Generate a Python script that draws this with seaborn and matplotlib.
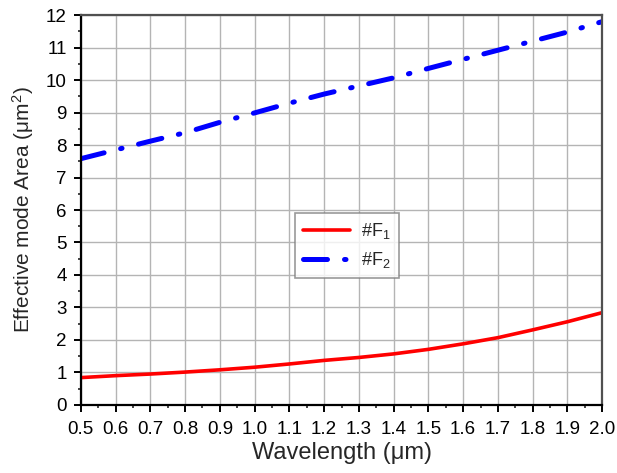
import numpy as np
import pandas as pd
import matplotlib
matplotlib.use('Agg')
import matplotlib.pyplot as plt
from matplotlib.ticker import MultipleLocator
import seaborn as sns

# values
wavelength = [0.5, 0.6, 0.7, 0.8, 0.9, 1.0, 1.1, 1.2, 1.3, 1.4, 1.5, 1.6, 1.7, 1.8, 1.9, 2.0]
area_f1 = [0.84, 0.90, 0.95, 1.01, 1.08, 1.16, 1.26, 1.37, 1.46, 1.57, 1.71, 1.88, 2.07, 2.31, 2.56, 2.84]
area_f2 = [7.58, 7.85, 8.12, 8.38, 8.70, 8.99, 9.29, 9.57, 9.82, 10.07, 10.36, 10.64, 10.92, 11.20, 11.48, 11.80]
labels = ['#F$_1$', '#F$_2$']

sns.set_style('white')
plt.rcParams['font.family'] = ['Liberation Sans', 'DejaVu Sans']
plt.rcParams['mathtext.default'] = 'regular'

df = pd.DataFrame({'wl': wavelength, 'f1': area_f1, 'f2': area_f2})

fig, ax = plt.subplots(figsize=(6.17, 4.73), dpi=100)
fig.subplots_adjust(left=0.131, right=0.976, top=0.968, bottom=0.144)

sns.lineplot(data=df, x='wl', y='f1', ax=ax, color='#ff0000', lw=2.6, label=labels[0])
sns.lineplot(data=df, x='wl', y='f2', ax=ax, color='#0000ff', lw=3.6, label=labels[1],
             dashes=False)
ax.lines[1].set_linestyle((0, (4.8, 3.4, 0.3, 3.4)))
ax.lines[1].set_dash_capstyle('round')

ax.set_xlim(0.5, 2.0)
ax.set_ylim(0, 12)
ax.xaxis.set_major_locator(MultipleLocator(0.1))
ax.xaxis.set_minor_locator(MultipleLocator(0.05))
ax.yaxis.set_major_locator(MultipleLocator(1))
ax.yaxis.set_minor_locator(MultipleLocator(0.5))
ax.set_xticklabels([f'{v:.1f}' for v in ax.get_xticks()])

ax.grid(True, which='major', color='#b4b4b4', lw=1.0)
ax.tick_params(which='major', direction='out', length=5, width=1.4, labelsize=13.5,
               bottom=True, left=True, colors='black')
ax.tick_params(which='minor', direction='out', length=2.5, width=1.2, bottom=True, left=True)
ax.tick_params(axis='x', which='major', pad=6.5)
ax.tick_params(axis='y', which='major', pad=5)

for side in ['left', 'bottom']:
    ax.spines[side].set_color('black')
    ax.spines[side].set_linewidth(1.6)
for side in ['top', 'right']:
    ax.spines[side].set_color('#505050')
    ax.spines[side].set_linewidth(1.6)

ax.set_xlabel('Wavelength (μm)', fontsize=17, labelpad=3)
ax.set_ylabel('Effective mode Area (μm$^2$)', fontsize=15, labelpad=7)

leg = ax.legend(loc='center', bbox_to_anchor=(0.51, 0.409), fontsize=13, frameon=True,
                fancybox=False, edgecolor='#808080', handlelength=2.6, handletextpad=0.6,
                borderpad=0.45, labelspacing=0.5)
leg.get_frame().set_linewidth(1.2)

fig.savefig('out.png', dpi=100)
